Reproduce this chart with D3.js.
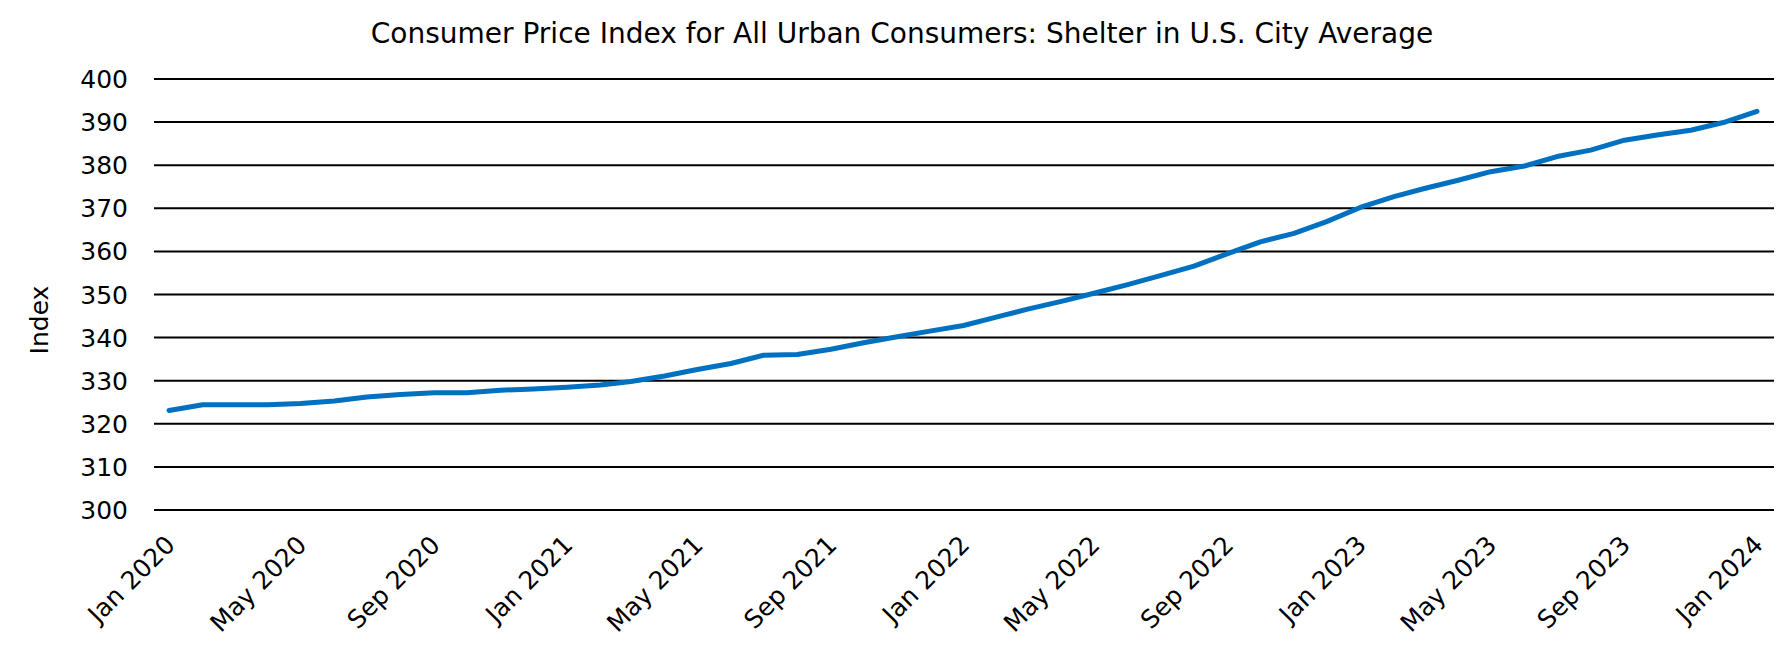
<!DOCTYPE html>
<html>
<head>
<meta charset="utf-8">
<script src="https://cdn.jsdelivr.net/npm/d3@7"></script>
<style>
  body { margin: 0; background: #fff; }
  svg { display: block; font-family: "DejaVu Sans", Verdana, sans-serif; }
</style>
</head>
<body>
<div id="chart"></div>
<script>
// monthly CPI shelter index, Jan 2020 .. Jan 2024
const months = [
  "2020-01","2020-02","2020-03","2020-04","2020-05","2020-06","2020-07","2020-08","2020-09","2020-10","2020-11","2020-12",
  "2021-01","2021-02","2021-03","2021-04","2021-05","2021-06","2021-07","2021-08","2021-09","2021-10","2021-11","2021-12",
  "2022-01","2022-02","2022-03","2022-04","2022-05","2022-06","2022-07","2022-08","2022-09","2022-10","2022-11","2022-12",
  "2023-01","2023-02","2023-03","2023-04","2023-05","2023-06","2023-07","2023-08","2023-09","2023-10","2023-11","2023-12",
  "2024-01"
]
const shelter = [
  323.1, 324.4, 324.4, 324.4, 324.7, 325.3, 326.2, 326.8, 327.2, 327.2, 327.8, 328.1,
  328.5, 329.0, 329.8, 331.1, 332.6, 334.0, 335.9, 336.1, 337.3, 338.8, 340.2, 341.5,
  342.8, 344.8, 346.6, 348.4, 350.3, 352.3, 354.4, 356.6, 359.5, 362.2, 364.2, 366.9,
  370.2, 372.7, 374.6, 376.5, 378.5, 379.8, 382.0, 383.5, 385.8, 387.0, 388.1, 389.9,
  392.5
]
const yTicks = [300, 310, 320, 330, 340, 350, 360, 370, 380, 390, 400]
const xTickMonths = ["2020-01","2020-05","2020-09","2021-01","2021-05","2021-09","2022-01","2022-05","2022-09","2023-01","2023-05","2023-09","2024-01"]

const titleText = "Consumer Price Index for All Urban Consumers: Shelter in U.S. City Average"
const yLabel = "Index"

const W = 1792, H = 658
const plot = {left: 154, right: 1774, top: 79, bottom: 510}

const parseMonth = d3.timeParse("%Y-%m")
const data = months.map((m, i) => ({date: parseMonth(m), value: shelter[i]}))

const x = d3.scaleTime()
  .domain(d3.extent(data, d => d.date))
  .range([plot.left + 15, plot.right - 17])

const y = d3.scaleLinear()
  .domain([300, 400])
  .range([plot.bottom, plot.top])

const svg = d3.select("#chart").append("svg")
  .attr("width", W)
  .attr("height", H)

// title
svg.append("text")
  .attr("x", 902)
  .attr("y", 43)
  .attr("text-anchor", "middle")
  .style("font-size", "28px")
  .text(titleText)

// horizontal grid lines
svg.append("g")
  .selectAll("line")
  .data(yTicks)
  .enter().append("line")
  .attr("x1", plot.left)
  .attr("x2", plot.right)
  .attr("y1", d => y(d))
  .attr("y2", d => y(d))
  .style("stroke", "#000")
  .style("stroke-width", 2)

// y tick labels
svg.append("g")
  .selectAll("text")
  .data(yTicks)
  .enter().append("text")
  .attr("x", 128)
  .attr("y", d => y(d))
  .attr("dy", "0.36em")
  .attr("text-anchor", "end")
  .style("font-size", "25px")
  .text(d => d)

// y axis title
svg.append("text")
  .attr("transform", "translate(48,320) rotate(-90)")
  .attr("text-anchor", "middle")
  .style("font-size", "25px")
  .text(yLabel)

// x tick labels, rotated
const fmt = d3.timeFormat("%b %Y")
svg.append("g")
  .selectAll("text")
  .data(xTickMonths.map(parseMonth))
  .enter().append("text")
  .attr("transform", d => `translate(${x(d) - 5},${plot.bottom + 24}) rotate(-45)`)
  .attr("text-anchor", "end")
  .attr("dy", "0.7em")
  .style("font-size", "25px")
  .text(d => fmt(d))

// the line
const line = d3.line()
  .x(d => x(d.date))
  .y(d => y(d.value))

svg.append("path")
  .datum(data)
  .attr("d", line)
  .style("fill", "none")
  .style("stroke", "#0070c0")
  .style("stroke-width", 5)
  .style("stroke-linejoin", "round")
  .style("stroke-linecap", "round")
</script>
</body>
</html>
